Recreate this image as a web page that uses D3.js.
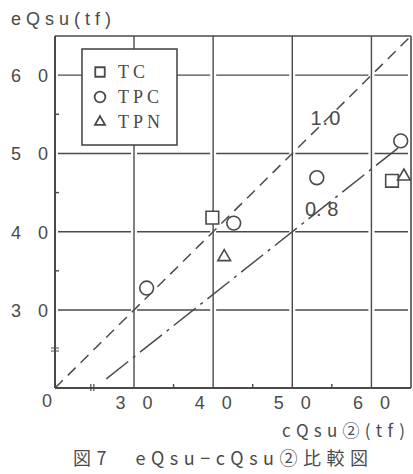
<!DOCTYPE html>
<html>
<head>
<meta charset="utf-8">
<script src="https://cdn.jsdelivr.net/npm/d3@7"></script>
<style>
  body { margin: 0; background: #fff; }
  svg { display: block; }
</style>
</head>
<body>
<div></div>
<script>
// data (tf)
const seriesNames = ["TC", "TPC", "TPN"];
const tcX = [39.9, 62.6];
const tcY = [41.8, 46.5];
const tpcX = [31.6, 42.6, 53.1, 63.7];
const tpcY = [32.8, 41.1, 46.9, 51.6];
const tpnX = [41.4, 64.1];
const tpnY = [36.9, 47.2];

const majorTicks = [30, 40, 50, 60];
const minorTicks = [35, 45, 55];
const tickLabels = ["3 0", "4 0", "5 0", "6 0"];
const ratioLines = [1.0, 0.8];
const ratioLabels = ["1.0", "0. 8"];

const ink = "#4a4a4a";
const W = 413, H = 474;

const svg = d3.select("div").append("svg").attr("width", W).attr("height", H);

// broken axes: 0 .. 30 squeezed into a short piece
const x = d3.scaleLinear().domain([0, 30, 65]).range([55, 134, 411]);
const y = d3.scaleLinear().domain([0, 30, 65]).range([388, 310, 36]);
// upper part only, for extending the 0.8 line below 30
const xLin = d3.scaleLinear().domain([30, 65]).range([134, 411]);
const yLin = d3.scaleLinear().domain([30, 65]).range([310, 36]);

const grid = svg.append("g").attr("stroke", ink).attr("stroke-width", 1.4);

// vertical grid
grid.selectAll("line.v").data(majorTicks).enter().append("line")
  .attr("x1", d => x(d)).attr("x2", d => x(d))
  .attr("y1", y(65)).attr("y2", y(0));

// horizontal grid, in pieces with small gaps at each vertical
const cols = [0].concat(majorTicks, [65]);
const hseg = [];
majorTicks.forEach(t => {
  for (let i = 0; i < cols.length - 1; i++) hseg.push({ v: t, a: cols[i], b: cols[i + 1] });
});
grid.selectAll("line.h").data(hseg).enter().append("line")
  .attr("x1", d => x(d.a) + 3).attr("x2", d => x(d.b) - 3)
  .attr("y1", d => y(d.v)).attr("y2", d => y(d.v));

// frame
const frame = svg.append("g").attr("stroke", ink).attr("fill", "none");
frame.append("line").attr("x1", x(0)).attr("x2", x(0)).attr("y1", y(65)).attr("y2", y(0)).attr("stroke-width", 2);
frame.append("line").attr("x1", x(0)).attr("x2", x(65)).attr("y1", y(0)).attr("y2", y(0)).attr("stroke-width", 2);
frame.append("line").attr("x1", x(0)).attr("x2", x(65)).attr("y1", y(65)).attr("y2", y(65)).attr("stroke-width", 1.6);
frame.append("line").attr("x1", x(65)).attr("x2", x(65)).attr("y1", y(65)).attr("y2", y(0)).attr("stroke-width", 1.6);

// minor ticks
frame.selectAll("line.mx").data(minorTicks).enter().append("line")
  .attr("x1", d => x(d)).attr("x2", d => x(d))
  .attr("y1", y(0)).attr("y2", y(0) - 4).attr("stroke-width", 1.4);
frame.selectAll("line.my").data(minorTicks).enter().append("line")
  .attr("x1", x(0)).attr("x2", x(0) + 4)
  .attr("y1", d => y(d)).attr("y2", d => y(d)).attr("stroke-width", 1.4);

// break marks
frame.append("path")
  .attr("d", `M${x(0) - 4},${y(15) - 1}h8M${x(0) - 4},${y(15) + 2}h8`)
  .attr("stroke-width", 1.2);
frame.append("path")
  .attr("d", `M${x(14) - 1},${y(0) - 4}v7M${x(14) + 2},${y(0) - 4}v7`)
  .attr("stroke-width", 1.2);

// ratio lines
const lines = svg.append("g").attr("stroke", ink).attr("stroke-width", 1.5).attr("fill", "none");
lines.append("path")
  .attr("d", d3.line()([[x(0), y(0)], [x(30), y(30)], [x(65), y(65 * ratioLines[0])]]))
  .attr("stroke-dasharray", "11,7");
lines.append("path")
  .attr("d", d3.line()([[xLin(26.5), yLin(26.5 * ratioLines[1])], [xLin(64.7), yLin(64.7 * ratioLines[1])]]))
  .attr("stroke-dasharray", "28,6,3,6");

const lab = svg.append("g").attr("fill", ink).attr("font-family", "'Liberation Sans', Arial, sans-serif");
lab.append("text").attr("x", x(52.3)).attr("y", y(53.6)).attr("font-size", 20)
  .attr("letter-spacing", 1).text(ratioLabels[0]);
lab.append("text").attr("x", x(51.6)).attr("y", y(42.0)).attr("font-size", 20)
  .text(ratioLabels[1]);

// tick labels
lab.selectAll("text.yl").data(majorTicks).enter().append("text")
  .attr("x", 11).attr("y", d => y(d) + 7)
  .attr("font-size", 18).attr("letter-spacing", 6)
  .text((d, i) => tickLabels[i]);
lab.selectAll("text.xl").data(majorTicks).enter().append("text")
  .attr("x", d => x(d) + 3).attr("y", y(0) + 21)
  .attr("text-anchor", "middle")
  .attr("font-size", 18).attr("letter-spacing", 6)
  .text((d, i) => tickLabels[i]);
lab.append("text").attr("x", 42).attr("y", y(0) + 19).attr("font-size", 18).text("0");

// axis titles and caption
lab.append("text").attr("x", 11).attr("y", 25).attr("font-size", 18)
  .attr("textLength", 100).attr("lengthAdjust", "spacing").text("eQsu(tf)");
lab.append("text").attr("x", 282).attr("y", 437).attr("font-size", 17)
  .attr("font-family", "'Noto Sans CJK JP', sans-serif")
  .attr("textLength", 123).attr("lengthAdjust", "spacing").text("cQsu②(tf)");
lab.append("text").attr("x", 73).attr("y", 465).attr("font-size", 18)
  .attr("font-family", "'Noto Sans CJK JP', sans-serif")
  .attr("textLength", 295).attr("lengthAdjust", "spacing").text("図7　eQsu−cQsu②比較図");

// markers
const sym = {
  TC: d3.symbol(d3.symbolSquare),
  TPC: d3.symbol(d3.symbolCircle),
  TPN: d3.symbol(d3.symbolTriangle)
};
const dataBySeries = [
  { name: "TC", xs: tcX, ys: tcY, size: 160 },
  { name: "TPC", xs: tpcX, ys: tpcY, size: 150 },
  { name: "TPN", xs: tpnX, ys: tpnY, size: 70 }
];
const marks = svg.append("g").attr("fill", "#fff").attr("stroke", ink).attr("stroke-width", 1.6);
dataBySeries.forEach(s => {
  marks.selectAll(null).data(s.xs).enter().append("path")
    .attr("d", sym[s.name].size(s.size))
    .attr("transform", (d, i) => `translate(${x(d)},${y(s.ys[i]) + (s.name === "TPN" ? 1 : 0)})`);
});

// legend
const lg = svg.append("g");
lg.append("rect").attr("x", 82).attr("y", 49).attr("width", 95).attr("height", 96)
  .attr("fill", "#fff").attr("stroke", ink).attr("stroke-width", 1.6);
const legendSizes = [90, 90, 45];
const rows = lg.selectAll("g.row").data(seriesNames).enter().append("g")
  .attr("transform", (d, i) => `translate(100,${72 + i * 25})`);
rows.append("path")
  .attr("d", (d, i) => sym[d].size(legendSizes[i])())
  .attr("fill", "#fff").attr("stroke", ink).attr("stroke-width", 1.8);
rows.append("text").attr("x", 18).attr("y", 6)
  .attr("font-family", "'Liberation Serif', serif").attr("font-size", 18)
  .attr("letter-spacing", 4).attr("fill", ink).text(d => d);
</script>
</body>
</html>
